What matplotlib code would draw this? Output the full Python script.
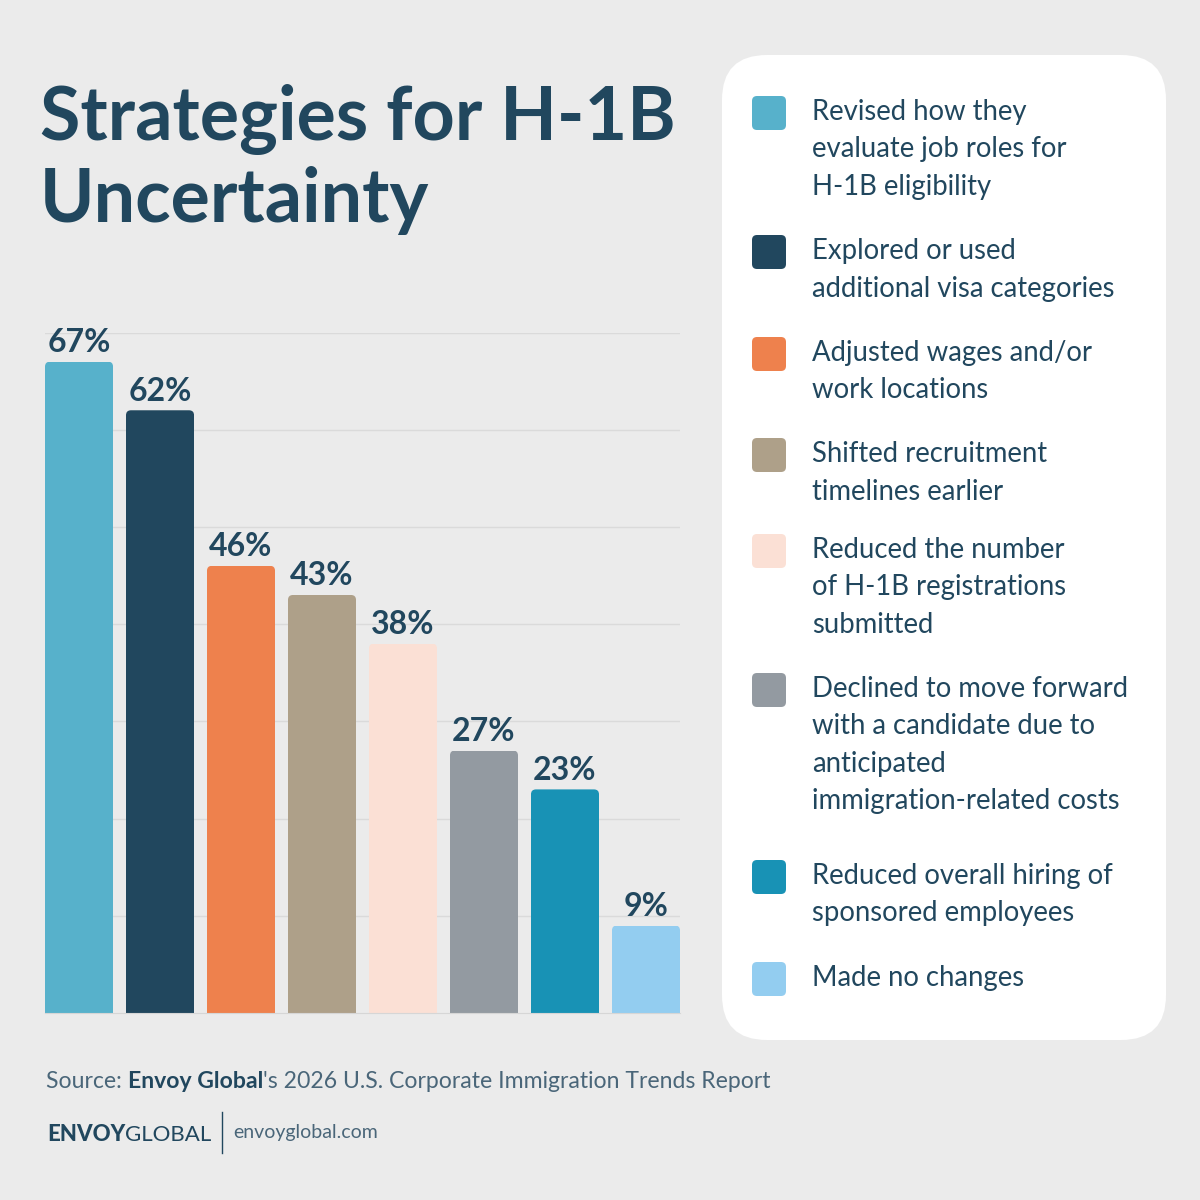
import numpy as np
import matplotlib.pyplot as plt
from matplotlib.patches import FancyBboxPatch

# data
strategies = [
    "Revised how they\nevaluate job roles for\nH-1B eligibility",
    "Explored or used\nadditional visa categories",
    "Adjusted wages and/or\nwork locations",
    "Shifted recruitment\ntimelines earlier",
    "Reduced the number\nof H-1B registrations\nsubmitted",
    "Declined to move forward\nwith a candidate due to\nanticipated\nimmigration-related costs",
    "Reduced overall hiring of\nsponsored employees",
    "Made no changes",
]
shares = [67, 62, 46, 43, 38, 27, 23, 9]
colors = ["#57b1cb", "#21475e", "#ee814d", "#aea089",
          "#fbe0d5", "#939aa1", "#1892b5", "#93cdf0"]
title_lines = ["Strategies for H-1B", "Uncertainty"]

NAVY = "#21475e"
GREY_NAVY = "#4a6679"
BG = "#ebebeb"
plt.rcParams['font.family'] = ['Lato', 'DejaVu Sans']

fig = plt.figure(figsize=(12, 12), dpi=100, facecolor=BG)

# overlay in pixel coordinates for title, legend panel and footer
ov = fig.add_axes([0, 0, 1, 1])
ov.set_xlim(0, 1200)
ov.set_ylim(1200, 0)
ov.axis('off')

for i, line in enumerate(title_lines):
    ov.text(40, 140 + i * 82, line, fontsize=53, fontweight='bold',
            color=NAVY, va='baseline', ha='left')

# legend panel
ov.add_patch(FancyBboxPatch((722, 55), 444, 985,
                            boxstyle="round,pad=0,rounding_size=45",
                            fc='white', ec='none'))
legend_y = [120, 259, 361, 462, 558, 697, 884, 986]
for lab, col, y0 in zip(strategies, colors, legend_y):
    ov.add_patch(FancyBboxPatch((752, y0 - 24), 34, 34,
                                boxstyle="round,pad=0,rounding_size=5",
                                fc=col, ec='none'))
    for j, line in enumerate(lab.split("\n")):
        ov.text(812, y0 + j * 37.5, line, fontsize=19.8, color=NAVY,
                va='baseline', ha='left')

# bar chart
ax = fig.add_axes([45 / 1200, 187 / 1200, 635 / 1200, 680.5 / 1200])
ax.patch.set_alpha(0)
x = np.arange(len(shares))
w = 0.84
ax.set_xlim(-0.42, len(shares) - 0.58)
ax.set_ylim(0, 70)
ax.set_yticks(np.arange(10, 71, 10))
ax.yaxis.grid(True, color='#dadada', lw=1)
ax.set_axisbelow(True)
for s in ['top', 'right', 'left']:
    ax.spines[s].set_visible(False)
ax.spines['bottom'].set_color('#d6d6d6')
ax.tick_params(left=False, bottom=False, labelleft=False, labelbottom=False)

# rounding of bar tops
px_x = 635 / (len(shares) - 0.16)
px_y = 680.5 / 70
r = 5 / px_x
asp = px_x / px_y
bars = ax.bar(x, shares, width=w, color=colors, zorder=2)
for b, v in zip(bars, shares):
    clip = FancyBboxPatch((b.get_x(), -5), b.get_width(), v + 5,
                          boxstyle=f"round,pad=0,rounding_size={r}",
                          mutation_aspect=asp, transform=ax.transData)
    b.set_clip_path(clip)
    ax.annotate(f"{v}%", (b.get_x() + b.get_width() / 2, v),
                xytext=(0, 7), textcoords='offset points',
                ha='center', va='baseline', fontsize=23,
                fontweight='bold', color=NAVY, annotation_clip=False)

# footer
fig.canvas.draw()
rend = fig.canvas.get_renderer()


def run_text(parts, x0, y, size):
    xx = x0
    for txt, weight, col in parts:
        t = ov.text(xx, y, txt, fontsize=size, fontweight=weight, color=col,
                    va='baseline', ha='left')
        bb = t.get_window_extent(renderer=rend)
        xx += bb.width
    return xx


run_text([("Source: ", 'normal', GREY_NAVY),
          ("Envoy Global", 'bold', NAVY),
          ("'s 2026 U.S. Corporate Immigration Trends Report", 'normal', GREY_NAVY)],
         46, 1088, 16.6)
run_text([("ENVOY", 'black', NAVY), ("GLOBAL", 'normal', NAVY)], 47, 1141, 16)
ov.plot([222, 222], [1112, 1153], color=NAVY, lw=1)
ov.text(233, 1138, "envoyglobal.com", fontsize=14, fontweight='normal',
        color=GREY_NAVY, va='baseline', ha='left')

fig.savefig("out.png", dpi=100, facecolor=BG)
